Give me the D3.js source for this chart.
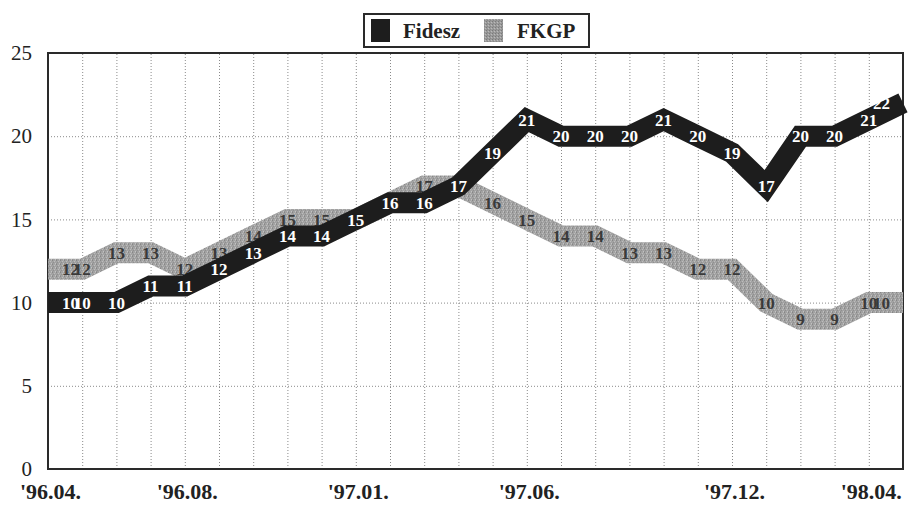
<!DOCTYPE html>
<html><head><meta charset="utf-8">
<script src="https://cdn.jsdelivr.net/npm/d3@7"></script>
<style>
html,body{margin:0;padding:0;background:#fff;}
svg{display:block;}
</style></head>
<body>
<script>
// ---- data ----
const periods = ["'96.04.","'96.05.","'96.06.","'96.07.","'96.08.","'96.09.","'96.10.","'96.11.","'96.12.",
  "'97.01.","'97.02.","'97.03.","'97.04.","'97.05.","'97.06.","'97.07.","'97.08.","'97.09.","'97.10.","'97.11.",
  "'97.12.","'98.01.","'98.02.","'98.03.","'98.04.","'98.05."];
const tickLabels = ["'96.04.","'96.08.","'97.01.","'97.06.","'97.12.","'98.04."];
const fidesz = [10,10,10,11,11,12,13,14,14,15,16,16,17,19,21,20,20,20,21,20,19,17,20,20,21,22];
const fkgp   = [12,12,13,13,12,13,14,15,15,15,16,17,17,16,15,14,14,13,13,12,12,10,9,9,10,10];
const seriesNames = ["Fidesz","FKGP"];
const yTicks = [0,5,10,15,20,25];

const W = 911, H = 514;
const m = {left:48, right:8, top:53, bottom:45};
const svg = d3.select("body").append("svg").attr("width",W).attr("height",H);

const defs = svg.append("defs");
const pat = defs.append("pattern").attr("id","stip").attr("patternUnits","userSpaceOnUse")
  .attr("width",4).attr("height",4);
pat.append("rect").attr("width",4).attr("height",4).attr("fill","#a2a2a2");
[[0,0,"#868686"],[2,1,"#bdbdbd"],[1,2,"#8f8f8f"],[3,3,"#c2c2c2"],[3,0,"#b0b0b0"],[0,3,"#939393"]]
  .forEach(([x,y,c])=>pat.append("rect").attr("x",x).attr("y",y).attr("width",1).attr("height",1).attr("fill",c));
const sw = defs.append("pattern").attr("id","stipL").attr("patternUnits","userSpaceOnUse")
  .attr("width",3).attr("height",3);
sw.append("rect").attr("width",3).attr("height",3).attr("fill","#9a9a9a");
[[0,0,"#7a7a7a"],[2,1,"#bbbbbb"],[1,2,"#888888"]]
  .forEach(([x,y,c])=>sw.append("rect").attr("x",x).attr("y",y).attr("width",1).attr("height",1).attr("fill",c));

const x = d3.scalePoint().domain(periods).range([m.left, W - m.right]).padding(0);
const y = d3.scaleLinear().domain([0,25]).range([H - m.bottom, m.top]);
const x0 = m.left, x1 = W - m.right, yb = H - m.bottom, yt = m.top;

// gridlines
const gx = svg.append("g").attr("transform",`translate(0,${yb})`)
  .call(d3.axisBottom(x).tickValues(periods.slice(1, periods.length-1)).tickSize(-(yb-yt)).tickFormat(""));
gx.select(".domain").remove();
gx.selectAll("line").attr("stroke","#8a8a8a").attr("stroke-width",1).attr("stroke-dasharray","1,2");
const gy = svg.append("g").attr("transform",`translate(${x0},0)`)
  .call(d3.axisLeft(y).tickValues([5,10,15,20]).tickSize(-(x1-x0)).tickFormat(""));
gy.select(".domain").remove();
gy.selectAll("line").attr("stroke","#8a8a8a").attr("stroke-width",1).attr("stroke-dasharray","1,2");

// frame
svg.append("rect").attr("x",x0).attr("y",yt).attr("width",x1-x0).attr("height",yb-yt)
  .attr("fill","none").attr("stroke","#2a2a2a").attr("stroke-width",2);

// y labels
const ay = svg.append("g").attr("transform",`translate(${x0},0)`)
  .call(d3.axisLeft(y).tickValues(yTicks).tickSize(0).tickPadding(16));
ay.select(".domain").remove();
ay.selectAll("text").attr("font-family","'Liberation Serif',serif").attr("font-size",21)
  .attr("fill","#222");

// x labels
const ax = svg.append("g").attr("transform",`translate(2,${yb})`)
  .call(d3.axisBottom(x).tickValues(tickLabels).tickSize(0).tickPadding(14));
ax.select(".domain").remove();
ax.selectAll("text").attr("font-family","'Liberation Serif',serif").attr("font-size",22)
  .attr("font-weight","bold").attr("fill","#222");

const line = d3.line().x((d,i)=>x(periods[i])).y(d=>y(d));

function drawSeries(vals, stroke, labelFill){
  svg.append("path").datum(vals).attr("d",line).attr("fill","none")
    .attr("stroke",stroke).attr("stroke-width",21).attr("stroke-linejoin","miter")
    .attr("stroke-miterlimit",6).attr("stroke-linecap","butt");
  const g = svg.append("g");
  vals.forEach((v,i)=>{
    const t = g.append("text").text(v).attr("x",x(periods[i])).attr("y",y(v)).attr("dy","0.36em")
      .attr("text-anchor","middle").attr("font-family","'Liberation Serif',serif")
      .attr("font-weight","bold").attr("font-size",17).attr("fill",labelFill);
    const w = t.node().getComputedTextLength();
    const cx = Math.max(x0 + 14 + w/2, Math.min(x1 - 13 - w/2, x(periods[i])));
    t.attr("x",cx);
  });
}
drawSeries(fkgp, "url(#stip)", "#3a3a3a");
drawSeries(fidesz, "#1d1d1d", "#ffffff");

// legend
const lg = svg.append("g");
lg.append("rect").attr("x",364).attr("y",14).attr("width",225).attr("height",33)
  .attr("fill","#fff").attr("stroke","#2a2a2a").attr("stroke-width",2);
lg.append("rect").attr("x",371).attr("y",19).attr("width",19).attr("height",23).attr("fill","#1d1d1d");
lg.append("text").attr("x",403).attr("y",38).text(seriesNames[0])
  .attr("font-family","'Liberation Serif',serif").attr("font-weight","bold").attr("font-size",21).attr("fill","#222");
lg.append("rect").attr("x",484).attr("y",19).attr("width",19).attr("height",23).attr("fill","url(#stipL)");
lg.append("text").attr("x",517).attr("y",38).text(seriesNames[1])
  .attr("font-family","'Liberation Serif',serif").attr("font-weight","bold").attr("font-size",21).attr("fill","#222");
</script>
</body></html>
